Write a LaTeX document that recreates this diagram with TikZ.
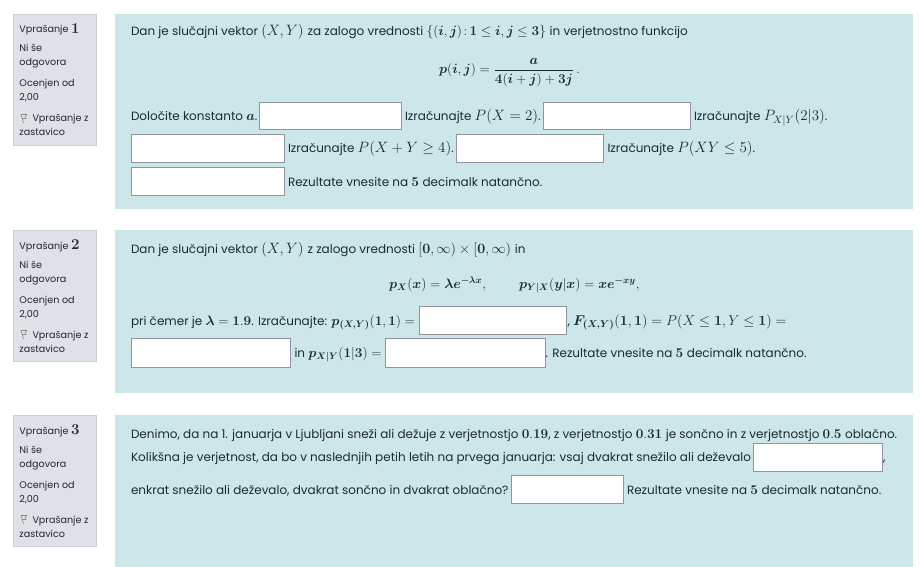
\documentclass[tikz,border=0pt]{standalone}
\usepackage{fix-cm}
\usepackage{amsmath,amssymb}
\usepackage[no-math]{fontspec}
\setmainfont{Poppins}
\definecolor{panelcol}{HTML}{CCE6EA}
\definecolor{sidecol}{HTML}{DEE2E6}
\definecolor{sideedge}{HTML}{CAD0D7}
\definecolor{inkcol}{HTML}{1D2A30}
\definecolor{inedge}{HTML}{8F959E}
\newcommand{\bs}[1]{\boldsymbol{#1}}
\newcommand{\bb}[1]{\mathbf{#1}}
\newcommand{\fT}{\fontsize{12}{14}\selectfont}
\newcommand{\fM}{\fontsize{13.5}{14}\selectfont}
\newcommand{\fN}{\fontsize{14.2}{14}\selectfont}
\newcommand{\fL}{\fontsize{15}{14}\selectfont}
\tikzset{
 x=1pt,y=-1pt,
 panel/.style={fill=panelcol,draw=none},
 side/.style={fill=sidecol,draw=sideedge,line width=1pt},
 txt/.style={anchor=base west,inner sep=0pt,outer sep=0pt,text=inkcol,font=\fT},
 stxt/.style={txt,font=\fontsize{9.6}{12}\selectfont},
 inbox/.style={draw=inedge,fill=white,line width=1pt,inner sep=0pt,rectangle},
 flagmark/.style={draw=gray!90,line width=.6pt,fill=none,line join=round},
}
\newcommand{\inputbox}[5]{\node[inbox,minimum width={#4-#2},minimum height={#5-#3}] (#1) at ({(#2+#4)/2},{(#3+#5)/2}) {};}
\newcommand{\sidebar}[3]{% name, top offset for label baseline, digit
 \node[stxt] (#1a) at (19.5,#2) {Vprašanje \raisebox{-0.3pt}{\fontsize{15}{15}\selectfont$\bb{#3}$}};
 \node[stxt] (#1b) at (19.5,#2+19) {Ni še};
 \node[stxt] (#1c) at (19.5,#2+33) {odgovora};
 \node[stxt] (#1d) at (19.5,#2+54) {Ocenjen od};
 \node[stxt] (#1e) at (19.5,#2+68) {2,00};
 \node[stxt] (#1f) at (32.5,#2+89) {Vprašanje z};
 \node[stxt] (#1g) at (19.5,#2+103) {zastavico};
 \draw[flagmark] (23.5,#2+90) -- (21,#2+81.5) -- (27,#2+81.5) -- (25,#2+83.5) -- (26,#2+85.5) -- (22.2,#2+85.5);
}
\begin{document}
\begin{tikzpicture}
\useasboundingbox (0,0) rectangle (921,567);
% panels
\path[panel] (115,14) rectangle (913,209);
\path[panel] (115,230) rectangle (913,393);
\path[panel] (115,415) rectangle (913,567);
\path[side] (13.5,14.5) rectangle (96.5,145.5);
\path[side] (13.5,230.5) rectangle (96.5,361.5);
\path[side] (13.5,415.5) rectangle (96.5,546.5);
\sidebar{sa}{33}{1}
\sidebar{sb}{249}{2}
\sidebar{sc}{434}{3}
% question 1
\node[txt] (qa1) at (131,36) {Dan je slučajni vektor \fL$(X,Y)$ \fT za zalogo vrednosti \fM$\{(\bs{i},\bs{j})\colon\! \bb{1}\le \bs{i},\bs{j}\le \bb{3}\}$ \fT in verjetnostno funkcijo};
\node[txt,font=\fM] (qa2) at (439,74) {$\bs{p}(\bs{i},\bs{j})=\dfrac{\bs{a}}{\bb{4}(\bs{i}+\bs{j})+\bb{3}\bs{j}}\,.$};
\node[txt] (qa3) at (131,121) {Določite konstanto \fM$\bs{a}$\fT.};
\inputbox{ba}{259.5}{102.5}{401.5}{130}
\node[txt] (qa4) at (405,121) {Izračunajte \fL$P(X=2)$\fT.};
\inputbox{bb}{543.5}{102.5}{690.5}{130}
\node[txt] (qa5) at (694,121) {Izračunajte \fL$P_{X|Y}(2|3)$\fT.};
\inputbox{bc}{131.5}{134.5}{284.5}{162.5}
\node[txt] (qa6) at (288,153) {Izračunajte \fL$P(X+Y\ge 4)$\fT.};
\inputbox{bd}{456.5}{134.5}{603.5}{162.5}
\node[txt] (qa7) at (607.5,153) {Izračunajte \fL$P(XY\le 5)$\fT.};
\inputbox{be}{131.5}{167.5}{284.5}{195.5}
\node[txt] (qa8) at (288,186) {Rezultate vnesite na \fM$\bb{5}$ \fT decimalk natančno.};
% question 2
\node[txt] (qb1) at (131,253) {Dan je slučajni vektor \fL$(X,Y)$ \fT z zalogo vrednosti \fN$[\bb{0},\infty)\times[\bb{0},\infty)$ \fT in};
\node[txt,font=\fM] (qb2) at (389,288) {$\bs{p_X}(\bs{x})=\bs{\lambda e^{-\lambda x}},$};
\node[txt,font=\fM] (qb3) at (519,288) {$\bs{p_{Y|X}}(\bs{y}|\bs{x})=\bs{x e^{-xy}},$};
\node[txt] (qb4) at (131,325) {pri čemer je \fM$\bs{\lambda}=\bb{1.9}$\fT. Izračunajte: \fM$\bs{p_{(X,Y)}}(\bb{1},\bb{1})=$};
\inputbox{bf}{419.5}{306.5}{566.5}{334.5}
\node[txt] (qb5) at (567.5,325) {, \fN$\bs{F_{(X,Y)}}(\bb{1},\bb{1})=P(X\le\bb{1},Y\le\bb{1})=$};
\inputbox{bg}{131.5}{338.5}{290.5}{367}
\node[txt] (qb6) at (294.5,357) {in \fM$\bs{p_{X|Y}}(\bb{1}|\bb{3})=$};
\inputbox{bh}{385.5}{338.5}{545.5}{367}
\node[txt] (qb7) at (545.5,357) {. Rezultate vnesite na \fM$\bb{5}$ \fT decimalk natančno.};
% question 3
\node[txt] (qc1) at (131,438) {Denimo, da na 1. januarja v Ljubljani sneži ali dežuje z verjetnostjo \fM$\bb{0.19}$\fT, z verjetnostjo \fM$\bb{0.31}$ \fT je sončno in z verjetnostjo \fM$\bb{0.5}$ \fT oblačno.};
\node[txt] (qc2) at (131,461.5) {Kolikšna je verjetnost, da bo v naslednjih petih letih na prvega januarja: vsaj dvakrat snežilo ali deževalo};
\inputbox{bi}{753.5}{443.5}{882.5}{471.5}
\node[txt] (qc3) at (883,461.5) {,};
\node[txt] (qc4) at (131,494) {enkrat snežilo ali deževalo, dvakrat sončno in dvakrat oblačno?};
\inputbox{bj}{511.5}{475.5}{623.5}{503.5}
\node[txt] (qc5) at (627,494) {Rezultate vnesite na \fM$\bb{5}$ \fT decimalk natančno.};
\end{tikzpicture}
\end{document}
